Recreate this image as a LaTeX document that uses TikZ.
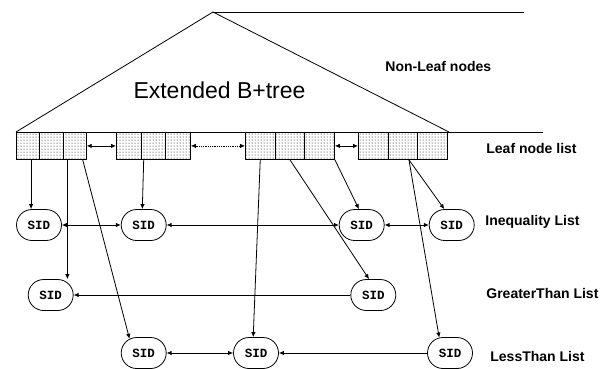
\documentclass[tikz,border=0pt]{standalone}
\usepackage{fontspec}
\setmainfont{Liberation Sans}
\newfontfamily\sidfont{Liberation Mono}
\usetikzlibrary{shapes.misc,patterns,arrows.meta}

\begin{document}
\begin{tikzpicture}
  [x=1pt,y=-1pt,line width=0.8pt,
   every node/.style={inner sep=1pt},
   leaf/.style={draw,pattern=dots,minimum height=27pt,anchor=north west},
   sid/.style={draw,rounded rectangle,minimum width=47pt,minimum height=31pt,
     font=\sidfont\bfseries\fontsize{12.5}{14}\selectfont},
   lbl/.style={anchor=west,font=\bfseries\fontsize{14}{16}\selectfont},
   ptr/.style={-{Latex[length=5pt,width=4.5pt]}},
   link/.style={{Latex[length=5pt,width=4.5pt]}-{Latex[length=5pt,width=4.5pt]}}]
  \useasboundingbox (0,0) rectangle (607,368);

  % non-leaf part of the tree
  \coordinate (apex) at (213,12);
  \coordinate (topend) at (524,12);
  \coordinate (bl) at (16,132);
  \coordinate (br) at (449,132);
  \coordinate (baseend) at (543,132);
  \draw (bl) -- (apex) -- (br);
  \draw (apex) -- (topend);
  \draw (bl) -- (baseend);
  \node[font=\fontsize{23}{26}\selectfont] (title) at (219.5,90) {Extended B+tree};
  \node[lbl] (nonleaf) at (384,66) {Non-Leaf nodes};

  % leaf pages, three cells each
  \foreach \g/\x/\w in {1/16/23.3,2/116/24.7,3/245/29.7,4/358/29.7}
    \foreach \c in {1,2,3}
      \node[leaf,minimum width=\w pt] (g\g c\c) at ({\x+(\c-1)*\w},132) {};
  \draw[link] (g1c3.east) -- (g2c1.west);
  \draw[link,densely dotted] (g2c3.east) -- (g3c1.west);
  \draw[link] (g3c3.east) -- (g4c1.west);
  \node[lbl] (leaflist) at (485,148) {Leaf node list};

  % SID lists
  \node[sid] (i1) at (39,225) {SID};
  \node[sid] (i2) at (143.7,225) {SID};
  \node[sid] (i3) at (361.7,225) {SID};
  \node[sid] (i4) at (451.7,225) {SID};
  \node[sid] (gt1) at (50.7,295) {SID};
  \node[sid] (gt2) at (373.3,295) {SID};
  \node[sid] (lt1) at (143.7,353) {SID};
  \node[sid] (lt2) at (256,353) {SID};
  \node[sid] (lt3) at (450,353) {SID};

  \foreach \from/\to in {i1/i2,i2/i3,i3/i4,lt1/lt2}
    \draw[link] (\from.east) -- (\to.west);
  \draw[ptr] (gt2.west) -- (gt1.east);
  \draw[ptr] (lt3.west) -- (lt2.east);

  \node[lbl] (ineq) at (484,222) {Inequality List};
  \node[lbl] (greater) at (485,293) {GreaterThan List};
  \node[lbl] (less) at (489,356) {LessThan List};

  % pointers from leaf cells into the lists
  \draw[ptr] ([xshift=3pt]g1c1.south) -- ([xshift=3pt]g1c1.south |- i1.north);
  \draw[ptr] ([xshift=4pt]g1c2.south east) -- ([xshift=4pt]g1c2.south east |- gt1.north);
  \draw[ptr] ([xshift=-4pt]g1c3.south east) -- (lt1.135);
  \draw[ptr] ([xshift=3pt]g2c2.south west) -- (i2.95);
  \draw[ptr] (g3c1.south) -- (lt2.100);
  \draw[ptr] (g3c2.south) -- (gt2.105);
  \draw[ptr] (g3c3.south east) -- (i3.100);
  \draw[ptr] ([xshift=6pt]g4c2.south) -- (lt3.125);
  \draw[ptr] ([xshift=6pt]g4c2.south) -- (i4.115);
\end{tikzpicture}
\end{document}
